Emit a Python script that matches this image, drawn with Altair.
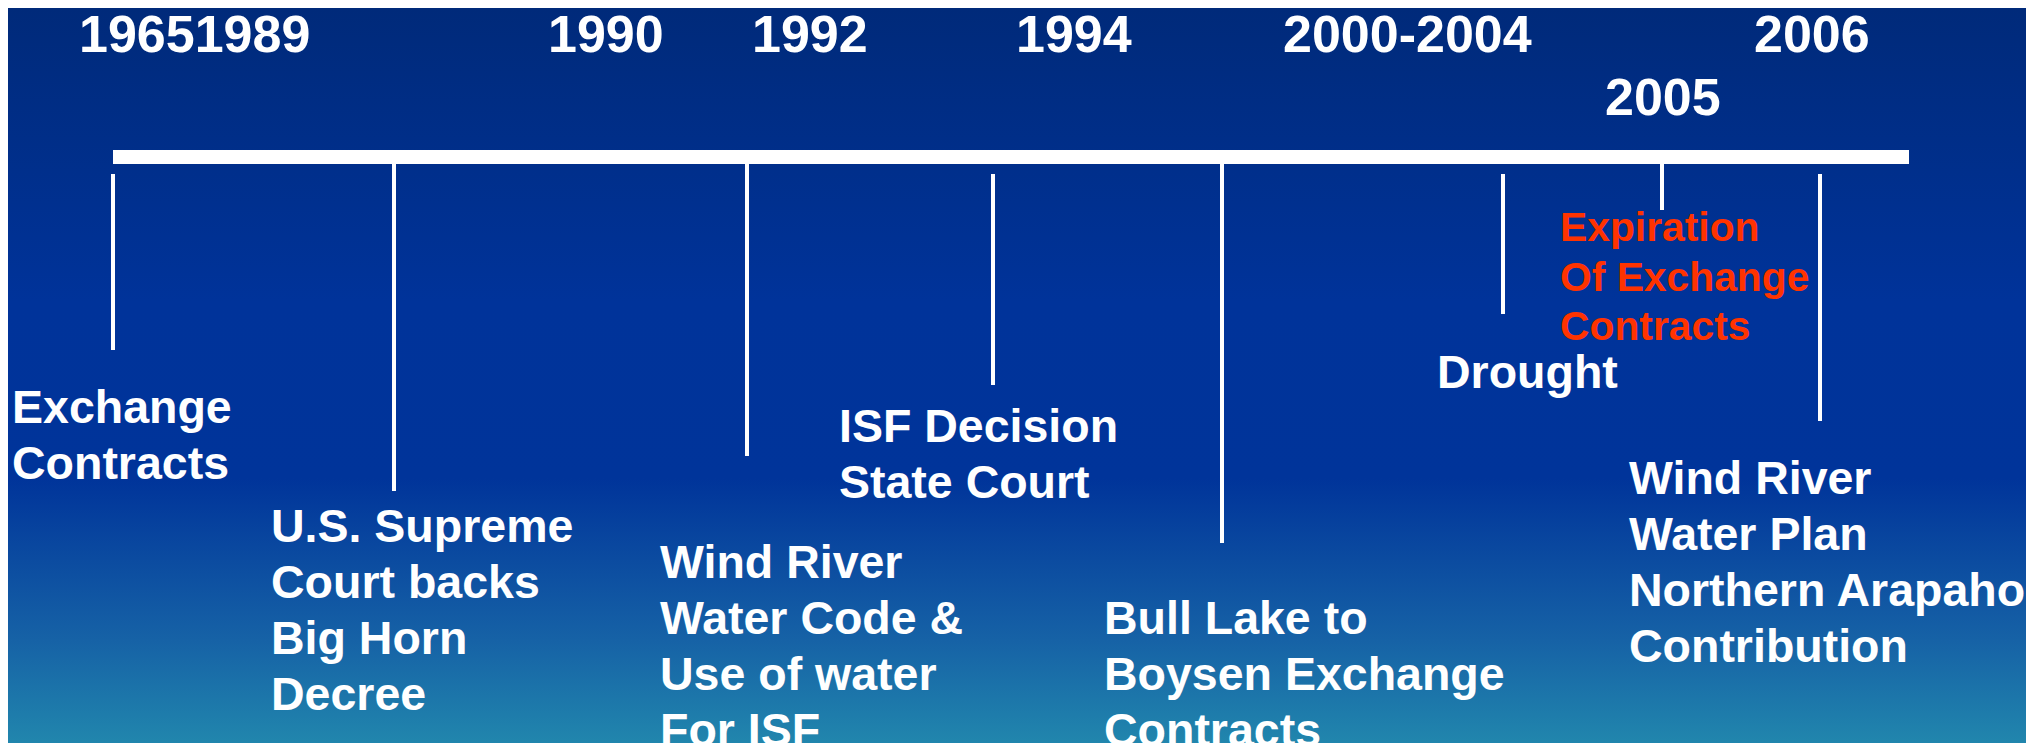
import altair as alt
import pandas as pd

# ---- slide coordinate system (full slide 2034 x 751 units) ----
SLIDE_X = [8, 2026]
SLIDE_Y = [8, 743]

# main timeline bar
bar_span = [113, 1909]
bar_band = [150, 164]

# event drop lines
tick_x = [113, 394, 747, 993, 1222, 1503, 1662, 1820]
tick_top = [174, 164, 164, 174, 164, 174, 164, 174]
tick_bottom = [350, 491, 456, 385, 543, 314, 210, 421]

# year labels
year_labels = ["19651989", "1990", "1992", "1994", "2000-2004", "2006", "2005"]
year_x = [79, 548, 752, 1016, 1283, 1754, 1605]
year_base = [52, 52, 52, 52, 52, 52, 115]

# event labels
event_labels = [
    "Exchange\nContracts",
    "U.S. Supreme\nCourt backs\nBig Horn\nDecree",
    "Wind River\nWater Code &\nUse of water\nFor ISF",
    "ISF Decision\nState Court",
    "Bull Lake to\nBoysen Exchange\nContracts",
    "Drought",
    "Wind River\nWater Plan\nNorthern Arapaho\nContribution",
]
event_x = [12, 271, 660, 839, 1104, 1437, 1629]
event_base = [423, 542, 578, 442, 634, 388, 494]

# highlighted label
red_labels = ["Expiration\nOf Exchange\nContracts"]
red_x = [1560]
red_base = [241]

xs = alt.Scale(domain=SLIDE_X, nice=False, zero=False)
ys = alt.Scale(domain=SLIDE_Y, nice=False, zero=False, reverse=True)

bg_df = pd.DataFrame({"x": [SLIDE_X[0]], "x2": [SLIDE_X[1]], "y": [SLIDE_Y[0]], "y2": [SLIDE_Y[1]]})
bar_df = pd.DataFrame({"x": [bar_span[0]], "x2": [bar_span[1]], "y": [bar_band[0]], "y2": [bar_band[1]]})
tick_df = pd.DataFrame({"x": tick_x, "y": tick_top, "y2": tick_bottom})
year_df = pd.DataFrame({"label": year_labels, "x": year_x, "y": year_base})
event_df = pd.DataFrame({"label": event_labels, "x": event_x, "y": event_base})
red_df = pd.DataFrame({"label": red_labels, "x": red_x, "y": red_base})

grad = alt.LinearGradient(
    gradient="linear",
    stops=[
        alt.GradientStop(color="#002a7a", offset=0.0),
        alt.GradientStop(color="#00339a", offset=0.40),
        alt.GradientStop(color="#00349a", offset=0.64),
        alt.GradientStop(color="#1662a6", offset=0.86),
        alt.GradientStop(color="#2186ad", offset=1.0),
    ],
    x1=0, x2=0, y1=0, y2=1,
)

bg = alt.Chart(bg_df).mark_rect(fill=grad).encode(
    x=alt.X("x:Q", scale=xs, axis=None),
    x2="x2:Q",
    y=alt.Y("y:Q", scale=ys, axis=None),
    y2="y2:Q",
)

bar = alt.Chart(bar_df).mark_rect(color="white").encode(
    x=alt.X("x:Q", scale=xs, axis=None),
    x2="x2:Q",
    y=alt.Y("y:Q", scale=ys, axis=None),
    y2="y2:Q",
)

ticks = alt.Chart(tick_df).mark_rule(color="white", strokeWidth=4).encode(
    x=alt.X("x:Q", scale=xs, axis=None),
    y=alt.Y("y:Q", scale=ys, axis=None),
    y2="y2:Q",
)

FONT = "Liberation Sans"

years = alt.Chart(year_df).mark_text(
    align="left", baseline="alphabetic", font=FONT, fontWeight="bold",
    fontSize=52, color="white",
).encode(
    x=alt.X("x:Q", scale=xs, axis=None),
    y=alt.Y("y:Q", scale=ys, axis=None),
    text="label:N",
)

events = alt.Chart(event_df).mark_text(
    align="left", baseline="alphabetic", font=FONT, fontWeight="bold",
    fontSize=46.5, lineHeight=56, lineBreak="\n", color="white",
).encode(
    x=alt.X("x:Q", scale=xs, axis=None),
    y=alt.Y("y:Q", scale=ys, axis=None),
    text="label:N",
)

red = alt.Chart(red_df).mark_text(
    align="left", baseline="alphabetic", font=FONT, fontWeight="bold",
    fontSize=40.8, lineHeight=49.5, lineBreak="\n", color="#ff3300",
).encode(
    x=alt.X("x:Q", scale=xs, axis=None),
    y=alt.Y("y:Q", scale=ys, axis=None),
    text="label:N",
)

chart = alt.layer(bg, bar, ticks, years, events, red).properties(
    width=SLIDE_X[1] - SLIDE_X[0],
    height=SLIDE_Y[1] - SLIDE_Y[0],
    padding=0,
    autosize=alt.AutoSizeParams(type="none"),
    background="#ffffff",
).configure_view(strokeWidth=0)

chart.save("out.html", embed_options={"renderer": "svg", "actions": False})
